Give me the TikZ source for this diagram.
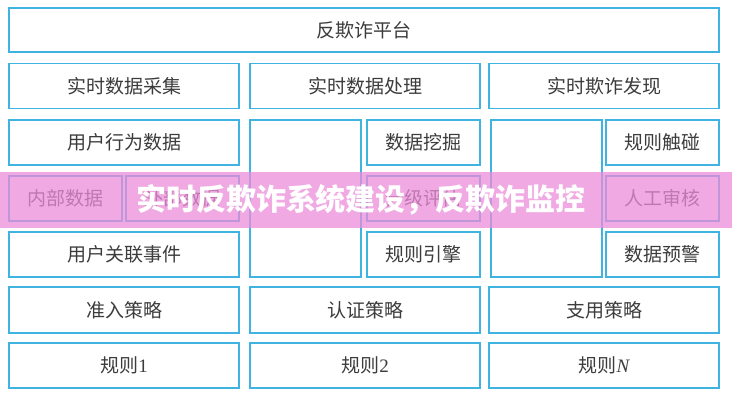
\documentclass[tikz,border=0pt]{standalone}
\usepackage{fontspec}
\setmainfont{Noto Sans CJK SC}
\newfontfamily\serifnum{Liberation Serif}
\definecolor{bc}{RGB}{64,180,225}
\definecolor{tc}{RGB}{60,60,60}
\definecolor{band}{RGB}{236,140,216}
\tikzset{
  box/.style={draw=bc, line width=1.6pt, fill=white, text=tc, inner sep=0pt,
    font=\fontsize{19}{21}\selectfont},
  wide/.style={box, minimum width=230pt, minimum height=45pt},
  half/.style={box, minimum width=113pt, minimum height=45pt},
  tall/.style={box, minimum width=111pt, minimum height=157pt},
}
\begin{document}
\begin{tikzpicture}[x=1pt,y=-1pt]
\useasboundingbox (0,0) rectangle (732,400);
\fill[white] (0,0) rectangle (732,400);
\node[box, minimum width=710pt, minimum height=44pt] (top) at (364,30) {反欺诈平台};
\node[wide] (cj) at (124,86) {实时数据采集};
\node[wide] (cl) at (365,86) {实时数据处理};
\node[wide] (fx) at (604,86) {实时欺诈发现};
\node[wide] (xw) at (124,142.5) {用户行为数据};
\node[half] (nb) at (65.5,198.5) {内部数据};
\node[half] (wb) at (182.5,198.5) {外部数据};
\node[wide] (gl) at (124,254.5) {用户关联事件};
\node[tall] (tm) at (305.5,198.5) {};
\node[half] (wj) at (423.5,142.5) {数据挖掘};
\node[half] (pg) at (423.5,198.5) {分级评估};
\node[half] (yq) at (423.5,254.5) {规则引擎};
\node[tall] (tr) at (546.5,198.5) {};
\node[half] (cp) at (662.5,142.5) {规则触碰};
\node[half] (sh) at (662.5,198.5) {人工审核};
\node[half] (yj) at (662.5,254.5) {数据预警};
\node[wide, minimum height=46pt] (zr) at (124,310) {准入策略};
\node[wide, minimum height=46pt] (rz) at (365,310) {认证策略};
\node[wide, minimum height=46pt] (zy) at (604,310) {支用策略};
\node[wide] (g1) at (124,365.5) {规则{\serifnum 1}};
\node[wide] (g2) at (365,365.5) {规则{\serifnum 2}};
\node[wide] (gn) at (604,365.5) {规则{\serifnum\itshape N}};
\fill[band, opacity=0.74] (0,172) rectangle (732,228);
\node[text=white, font=\bfseries\fontsize{30}{32}\selectfont, inner sep=0pt] (title) at (361,200) {实时反欺诈系统建设，反欺诈监控};
\end{tikzpicture}
\end{document}
